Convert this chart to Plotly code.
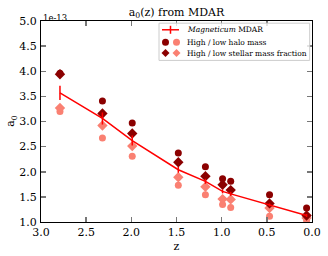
import plotly.graph_objects as go

z = [2.79, 2.32, 1.99, 1.48, 1.18, 0.99, 0.90, 0.47, 0.06]
mdar = [3.57, 3.06, 2.62, 2.04, 1.81, 1.61, 1.56, 1.34, 1.13]
mdar_err = [0.14, 0.12, 0.10, 0.06, 0.05, 0.04, 0.04, 0.03, 0.03]
high_halo = [3.96, 3.41, 2.97, 2.375, 2.10, 1.86, 1.81, 1.54, 1.28]
low_halo = [3.20, 2.67, 2.31, 1.73, 1.54, 1.35, 1.29, 1.115, 1.03]
high_star = [3.94, 3.16, 2.76, 2.19, 1.91, 1.74, 1.635, 1.37, 1.13]
low_star = [3.27, 2.92, 2.51, 1.89, 1.70, 1.456, 1.45, 1.28, 1.08]

DARK = "#8b0000"
LIGHT = "#fa8072"
FONT = "DejaVu Serif"

fig = go.Figure()
fig.add_trace(go.Scatter(x=z, y=low_halo, mode="markers",
                         marker=dict(symbol="circle", size=7, color=LIGHT)))
fig.add_trace(go.Scatter(x=z, y=low_star, mode="markers",
                         marker=dict(symbol="diamond", size=8, color=LIGHT)))
fig.add_trace(go.Scatter(x=z, y=high_halo, mode="markers",
                         marker=dict(symbol="circle", size=7, color=DARK)))
fig.add_trace(go.Scatter(x=z, y=high_star, mode="markers",
                         marker=dict(symbol="diamond", size=8, color=DARK)))
fig.add_trace(go.Scatter(x=z, y=mdar, mode="lines",
                         line=dict(color="red", width=1.5),
                         error_y=dict(type="data", array=mdar_err, color="red",
                                      thickness=1.5, width=0)))

# manual legend (page-pixel geometry of plot area)
L, R, T, B = 41.0, 312.0, 20.5, 222.0
W, H = R - L, B - T
def px(x):
    return (x - L) / W
def py(y):
    return (B - y) / H

shapes = [dict(type="rect", xref="paper", yref="paper",
               x0=px(159), x1=px(309.7), y0=py(60), y1=py(22.7),
               line=dict(color="#cccccc", width=1), fillcolor="rgba(255,255,255,0.8)")]
rows = [29.3, 41.7, 52.7]
shapes.append(dict(type="line", xref="paper", yref="paper",
                   x0=px(162), x1=px(179), y0=py(rows[0]), y1=py(rows[0]),
                   line=dict(color="red", width=1.5)))
shapes.append(dict(type="line", xref="paper", yref="paper",
                   x0=px(170.5), x1=px(170.5), y0=py(rows[0] - 4), y1=py(rows[0] + 4),
                   line=dict(color="red", width=1.5)))
for (cx, col) in [(165.5, DARK), (176.5, LIGHT)]:
    shapes.append(dict(type="circle", xref="paper", yref="paper",
                       xsizemode="pixel", ysizemode="pixel",
                       xanchor=px(cx), yanchor=py(rows[1]),
                       x0=-3.5, x1=3.5, y0=-3.5, y1=3.5,
                       fillcolor=col, line=dict(width=0)))
    shapes.append(dict(type="path", xref="paper", yref="paper",
                       xsizemode="pixel", ysizemode="pixel",
                       xanchor=px(cx), yanchor=py(rows[2]),
                       path="M -4 0 L 0 4 L 4 0 L 0 -4 Z",
                       fillcolor=col, line=dict(width=0)))

annotations = [
    dict(xref="paper", yref="paper", x=px(184.5), y=py(rows[0]), xanchor="left", yanchor="middle",
         text="<i>Magneticum</i> MDAR", showarrow=False, font=dict(family=FONT, size=7.5, color="black")),
    dict(xref="paper", yref="paper", x=px(184.5), y=py(rows[1]), xanchor="left", yanchor="middle",
         text="High / low halo mass", showarrow=False, font=dict(family=FONT, size=7.5, color="black")),
    dict(xref="paper", yref="paper", x=px(184.5), y=py(rows[2]), xanchor="left", yanchor="middle",
         text="High / low stellar mass fraction", showarrow=False, font=dict(family=FONT, size=7.5, color="black")),
    dict(xref="paper", yref="paper", x=0, y=1, xanchor="left", yanchor="bottom", yshift=-4,
         text="1e-13", showarrow=False, font=dict(family=FONT, size=8.5, color="black")),
    # y-axis title
    dict(xref="paper", yref="paper", x=px(11.5), y=py(121), xanchor="center", yanchor="middle",
         textangle=-90, text="a<sub>0</sub>", showarrow=False,
         font=dict(family=FONT, size=11, color="black")),
]
fig.update_layout(shapes=shapes, annotations=annotations)

axis_common = dict(showline=True, linecolor="black", linewidth=1, mirror="ticks",
                   ticks="inside", ticklen=5, tickcolor="#777", tickwidth=1.5,
                   showgrid=False, zeroline=False, automargin=False,
                   tickfont=dict(family=FONT, size=11, color="black"))

fig.update_xaxes(range=[3.0, 0.0], dtick=0.5, tickformat=".1f",
                 title=dict(text="z", font=dict(family=FONT, size=11, color="black"), standoff=4),
                 **axis_common)
fig.update_yaxes(range=[1.0, 5.0], dtick=0.5, tickformat=".1f", ticklabelstandoff=1,
                 **axis_common)

fig.update_layout(
    width=328, height=256,
    margin=dict(l=41, r=16, t=20.5, b=34),
    paper_bgcolor="white", plot_bgcolor="white",
    showlegend=False,
    hovermode=False,
    title=dict(text="a<sub>0</sub>(z) from MDAR", x=176.5 / 328, xanchor="center",
               yref="container", y=1 - 12 / 256, yanchor="middle",
               font=dict(family=FONT, size=11, color="black")),
)

# remove the default 8px page margin so the 328x256 figure fills the window exactly
fig.write_html("out.html",
               config={"displayModeBar": False, "staticPlot": True},
               post_script="document.body.style.margin='0';document.body.style.overflow='hidden';")
